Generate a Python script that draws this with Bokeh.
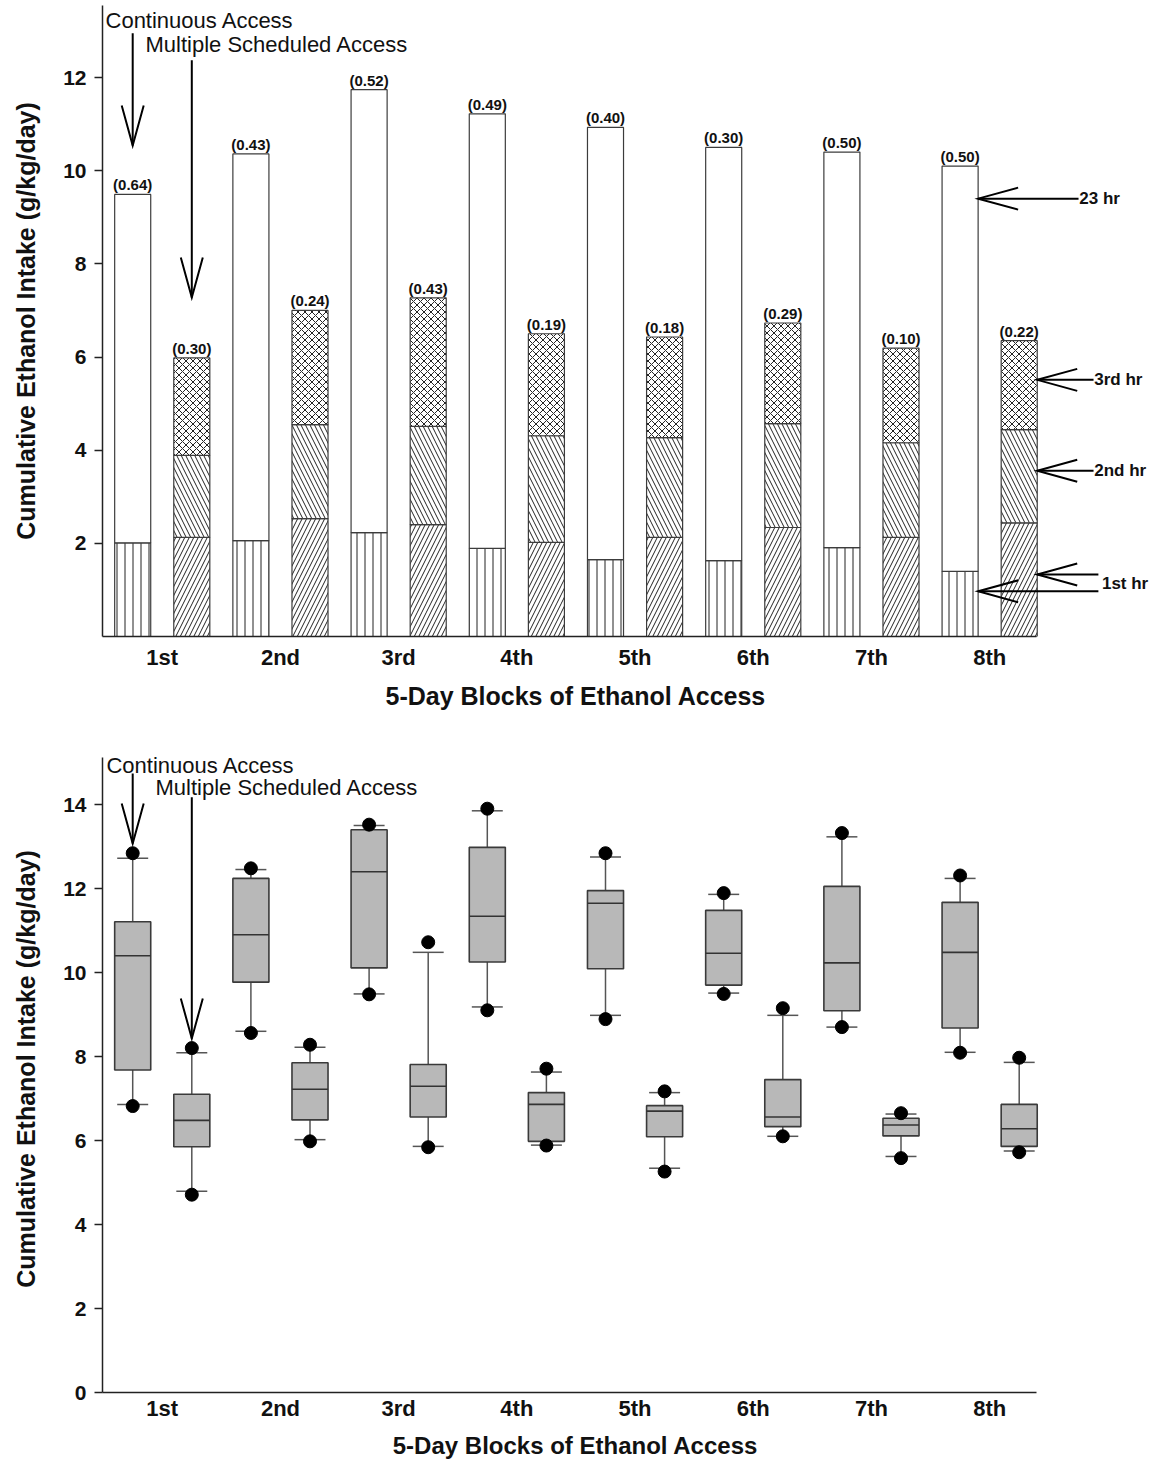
from bokeh.plotting import figure
from bokeh.layouts import column
from bokeh.models import FixedTicker, Range1d, Title
from bokeh.core.properties import value
from bokeh.embed import file_html
from bokeh.resources import INLINE

# ---------------- data ----------------
blocks = ["1st", "2nd", "3rd", "4th", "5th", "6th", "7th", "8th"]

# Top panel: cumulative ethanol intake (g/kg/day), stacked by access hour
cont_first_hr = [2.01, 2.06, 2.23, 1.89, 1.65, 1.63, 1.91, 1.40]
cont_23_hr = [9.49, 10.36, 11.74, 11.22, 10.93, 10.50, 10.40, 10.10]
msa_first_hr = [2.13, 2.53, 2.40, 2.02, 2.13, 2.34, 2.13, 2.44]
msa_second_hr = [3.89, 4.55, 4.51, 4.31, 4.27, 4.57, 4.16, 4.44]
msa_third_hr = [5.98, 7.00, 7.27, 6.50, 6.43, 6.73, 6.19, 6.35]
cont_sem = ["(0.64)", "(0.43)", "(0.52)", "(0.49)", "(0.40)", "(0.30)", "(0.50)", "(0.50)"]
msa_sem = ["(0.30)", "(0.24)", "(0.43)", "(0.19)", "(0.18)", "(0.29)", "(0.10)", "(0.22)"]

# Bottom panel: box plots
cont_max = [12.84, 12.48, 13.52, 13.90, 12.84, 11.89, 13.32, 12.31]
cont_whisk_hi = [12.72, 12.45, 13.50, 13.85, 12.75, 11.86, 13.23, 12.24]
cont_q3 = [11.21, 12.24, 13.40, 12.98, 11.95, 11.48, 12.05, 11.67]
cont_med = [10.40, 10.90, 12.40, 11.34, 11.65, 10.46, 10.23, 10.48]
cont_q1 = [7.68, 9.77, 10.11, 10.25, 10.09, 9.70, 9.09, 8.68]
cont_whisk_lo = [6.86, 8.60, 9.49, 9.18, 8.98, 9.51, 8.70, 8.10]
cont_min = [6.82, 8.56, 9.48, 9.10, 8.89, 9.49, 8.70, 8.09]

msa_max = [8.20, 8.28, 10.72, 7.71, 7.17, 9.15, 6.65, 7.97]
msa_whisk_hi = [8.09, 8.22, 10.48, 7.63, 7.14, 8.98, 6.63, 7.86]
msa_q3 = [7.10, 7.85, 7.81, 7.14, 6.83, 7.45, 6.53, 6.86]
msa_med = [6.48, 7.22, 7.29, 6.86, 6.70, 6.56, 6.37, 6.28]
msa_q1 = [5.85, 6.49, 6.56, 5.98, 6.09, 6.33, 6.11, 5.86]
msa_whisk_lo = [4.79, 6.02, 5.86, 5.89, 5.34, 6.10, 5.62, 5.75]
msa_min = [4.71, 5.98, 5.84, 5.88, 5.26, 6.10, 5.58, 5.72]

top_yticks = [2, 4, 6, 8, 10, 12]
bottom_yticks = [0, 2, 4, 6, 8, 10, 12, 14]

XTITLE = "5-Day Blocks of Ethanol Access"
YTITLE = "Cumulative Ethanol Intake (g/kg/day)"

# ---------------- layout constants ----------------
FONT = "Liberation Sans"
LEFT = 102
W1 = 1150
W2 = 1048
X_PX = 118.2
X0 = 0.4945
XAXIS_END = 8.396
BAR_W = 0.305
OFF = 0.25
CAP_HALF = 0.131

xs = list(range(1, 9))
xc = [x - OFF for x in xs]
xm = [x + OFF for x in xs]

H1, TOP1, BOT1 = 720, 5, 84
H2, TOP2, BOT2 = 741, 25, 69
FH1 = H1 - TOP1 - BOT1
FH2 = H2 - TOP2 - BOT2
Y1_PX = 46.58
Y2_PX = 42.0
Y1_END = FH1 / Y1_PX
Y2_END = FH2 / Y2_PX


def make_fig(width, height, top, bottom, y_end, yticks, ybounds):
    p = figure(width=width, height=height,
               x_range=Range1d(X0, X0 + (width - LEFT) / X_PX), y_range=Range1d(0, y_end),
               output_backend="svg", toolbar_location=None,
               min_border_left=LEFT, min_border_right=0,
               min_border_top=top, min_border_bottom=bottom)
    p.xgrid.visible = False
    p.ygrid.visible = False
    p.outline_line_color = None
    p.background_fill_color = "white"
    p.border_fill_color = "white"

    xa = p.xaxis[0]
    xa.ticker = FixedTicker(ticks=xs)
    xa.major_label_overrides = {x: b for x, b in zip(xs, blocks)}
    xa.bounds = (X0, XAXIS_END)
    xa.axis_line_width = 1.5
    xa.axis_line_color = "#222222"
    xa.major_tick_out = 0
    xa.major_tick_in = 0
    xa.minor_tick_out = 0
    xa.minor_tick_in = 0
    xa.major_label_text_font = FONT
    xa.major_label_text_font_style = "bold"
    xa.major_label_text_font_size = "22px"
    xa.major_label_text_color = "#111111"

    ya = p.yaxis[0]
    ya.ticker = FixedTicker(ticks=yticks)
    ya.bounds = ybounds
    ya.axis_line_width = 1.5
    ya.axis_line_color = "#222222"
    ya.major_tick_out = 8
    ya.major_tick_in = 0
    ya.major_tick_line_width = 1.5
    ya.major_tick_line_color = "#222222"
    ya.minor_tick_out = 0
    ya.minor_tick_in = 0
    ya.major_label_standoff = 8
    ya.major_label_text_font = FONT
    ya.major_label_text_font_style = "bold"
    ya.major_label_text_font_size = "21px"
    ya.major_label_text_color = "#111111"
    ya.axis_label = YTITLE
    ya.axis_label_text_font = FONT
    ya.axis_label_text_font_style = "bold"
    ya.axis_label_text_font_size = "25px"
    ya.axis_label_text_color = "#111111"
    ya.axis_label_standoff = 20
    return p


def arrow(p, x0, y0, x1, y1, sx, sy, head=40.0, half=11.0, lw=2):
    dxp = (x1 - x0) * sx
    dyp = (y1 - y0) * sy
    L = (dxp ** 2 + dyp ** 2) ** 0.5
    ux, uy = dxp / L, dyp / L
    bx, by = -ux * head, -uy * head
    nx, ny = -uy * half, ux * half
    ax1 = x1 + (bx + nx) / sx
    ay1 = y1 + (by + ny) / sy
    ax2 = x1 + (bx - nx) / sx
    ay2 = y1 + (by - ny) / sy
    p.segment(x0=[x0], y0=[y0], x1=[x1], y1=[y1], line_color="black", line_width=lw)
    p.multi_line(xs=[[ax1, x1, ax2]], ys=[[ay1, y1, ay2]], line_color="black",
                 line_width=lw, line_join="miter")


def label(p, x, y, txt, size, bold=False, align="left"):
    p.text(x=[x], y=[y], text=[txt], text_font=value(FONT), text_font_size=size,
           text_font_style="bold" if bold else "normal", text_align=align,
           text_baseline="middle", text_color="#111111")


# ---------------- top panel ----------------
p1 = make_fig(W1, H1, TOP1, BOT1, Y1_END, top_yticks, (0, Y1_END))
p1.xaxis[0].major_label_standoff = 8
# x title centred under the drawn axis line (the frame runs on to hold the hour labels)
p1.add_layout(Title(text=XTITLE, align="left", offset=283, vertical_align="middle",
                    standoff=17, text_font=FONT, text_font_style="bold",
                    text_font_size="25px", text_color="#111111"), "below")

bar_line = dict(line_color="#3c3c3c", line_width=1.2, fill_color="white",
                hatch_color="#222222", hatch_weight=1.0)
p1.vbar(x=xc, bottom=0, top=cont_first_hr, width=BAR_W, hatch_pattern="|", hatch_scale=8, **bar_line)
p1.vbar(x=xc, bottom=cont_first_hr, top=cont_23_hr, width=BAR_W, **bar_line)
p1.vbar(x=xm, bottom=0, top=msa_first_hr, width=BAR_W, hatch_pattern="/", hatch_scale=9, **bar_line)
p1.vbar(x=xm, bottom=msa_first_hr, top=msa_second_hr, width=BAR_W, hatch_pattern="\\", hatch_scale=9, **bar_line)
p1.vbar(x=xm, bottom=msa_second_hr, top=msa_third_hr, width=BAR_W, hatch_pattern="x", hatch_scale=7, **bar_line)

sem_style = dict(text_font=value(FONT), text_font_size="15px", text_font_style="bold",
                 text_align="center", text_baseline="bottom", text_color="#111111", y_offset=-1)
p1.text(x=xc, y=cont_23_hr, text=cont_sem, **sem_style)
p1.text(x=xm, y=msa_third_hr, text=msa_sem, **sem_style)

# group annotations
label(p1, 0.52, 13.22, "Continuous Access", "22px")
label(p1, 0.858, 12.71, "Multiple Scheduled Access", "22px")
arrow(p1, xc[0], 12.95, xc[0], 10.54, X_PX, Y1_PX)
arrow(p1, xm[0], 12.37, xm[0], 7.28, X_PX, Y1_PX)

# hour annotations on the right
c_edge = xc[-1] + BAR_W / 2
m_edge = xm[-1] + BAR_W / 2
arrow(p1, 8.752, 9.40, c_edge, 9.40, X_PX, Y1_PX)
label(p1, 8.758, 9.40, "23 hr", "17px", bold=True)
arrow(p1, 8.879, 5.51, m_edge, 5.51, X_PX, Y1_PX)
label(p1, 8.885, 5.51, "3rd hr", "17px", bold=True)
arrow(p1, 8.879, 3.56, m_edge, 3.56, X_PX, Y1_PX)
label(p1, 8.885, 3.56, "2nd hr", "17px", bold=True)
arrow(p1, 8.92, 1.33, m_edge, 1.33, X_PX, Y1_PX)
arrow(p1, 8.92, 0.97, c_edge, 0.97, X_PX, Y1_PX)
label(p1, 8.95, 1.14, "1st hr", "17px", bold=True)

# ---------------- bottom panel ----------------
p2 = make_fig(W2, H2, TOP2, BOT2, Y2_END, bottom_yticks, (0, 15.12))
p2.xaxis[0].major_label_standoff = 3
p2.xaxis[0].axis_label = XTITLE
p2.xaxis[0].axis_label_text_font = FONT
p2.xaxis[0].axis_label_text_font_style = "bold"
p2.xaxis[0].axis_label_text_font_size = "24px"
p2.xaxis[0].axis_label_text_color = "#111111"
p2.xaxis[0].axis_label_standoff = 8

for xpos, hi, lo, q3, q1, med, mx, mn in (
        (xc, cont_whisk_hi, cont_whisk_lo, cont_q3, cont_q1, cont_med, cont_max, cont_min),
        (xm, msa_whisk_hi, msa_whisk_lo, msa_q3, msa_q1, msa_med, msa_max, msa_min)):
    p2.segment(x0=xpos, y0=q3, x1=xpos, y1=hi, line_color="#555555", line_width=1.5)
    p2.segment(x0=xpos, y0=q1, x1=xpos, y1=lo, line_color="#555555", line_width=1.5)
    p2.vbar(x=xpos, bottom=q1, top=q3, width=BAR_W, fill_color="#b8b8b8",
            line_color="#3a3a3a", line_width=1.6)
    p2.segment(x0=[x - BAR_W / 2 for x in xpos], y0=med, x1=[x + BAR_W / 2 for x in xpos], y1=med,
               line_color="#333333", line_width=1.6)
    p2.segment(x0=[x - CAP_HALF for x in xpos], y0=hi, x1=[x + CAP_HALF for x in xpos], y1=hi,
               line_color="#555555", line_width=1.5)
    p2.segment(x0=[x - CAP_HALF for x in xpos], y0=lo, x1=[x + CAP_HALF for x in xpos], y1=lo,
               line_color="#555555", line_width=1.5)
    p2.scatter(x=xpos, y=mx, size=13, marker="circle", fill_color="black", line_color="black")
    p2.scatter(x=xpos, y=mn, size=13, marker="circle", fill_color="black", line_color="black")

label(p2, 0.528, 14.93, "Continuous Access", "22px")
label(p2, 0.943, 14.40, "Multiple Scheduled Access", "22px")
arrow(p2, xc[0], 14.74, xc[0], 13.07, X_PX, Y2_PX)
arrow(p2, xm[0], 14.17, xm[0], 8.43, X_PX, Y2_PX)

layout = column(p1, p2, spacing=0)
open("out.html", "w").write(file_html(layout, INLINE))
